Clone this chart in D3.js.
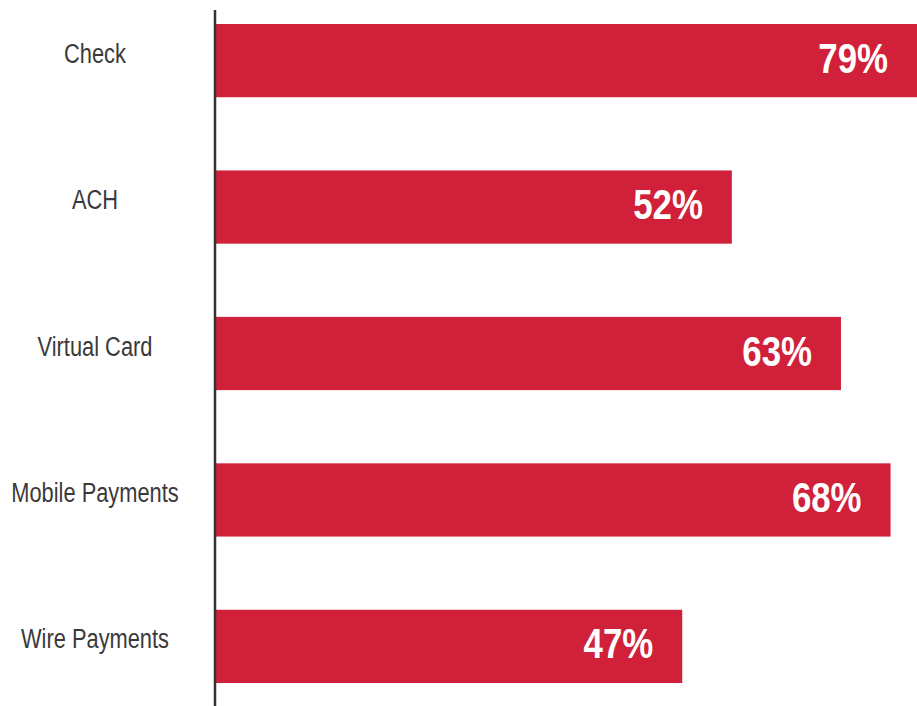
<!DOCTYPE html>
<html>
<head>
<meta charset="utf-8">
<script src="https://cdn.jsdelivr.net/npm/d3@7"></script>
<style>
  html, body { margin: 0; padding: 0; background: #ffffff; }
  svg { display: block; }
</style>
</head>
<body>
<svg id="chart" width="917" height="706"></svg>
<script>
// Share of respondents using each payment method
const categories = ["Check", "ACH", "Virtual Card", "Mobile Payments", "Wire Payments"];
const values = [79, 52, 63, 68, 47];
const valueLabels = ["79%", "52%", "63%", "68%", "47%"];

const W = 917, H = 706;
const axisX = 215;
const barLeft = 216;
const labelCenterX = 95;
const FONT = "'Liberation Sans', Arial, sans-serif";

const svg = d3.select("#chart");

// Horizontal value scale (percent → pixels); the longest bar runs past the frame edge
const x = d3.scaleLinear().domain([0, 100]).range([barLeft, barLeft + 992]);

// One band per category
const y = d3.scaleBand()
  .domain(categories)
  .range([24, 683])
  .paddingInner(0.5)
  .paddingOuter(0);

const rows = categories.map((c, i) => ({ cat: c, value: values[i], label: valueLabels[i] }));

// Bars
svg.append("g")
  .selectAll("rect")
  .data(rows)
  .join("rect")
  .attr("x", barLeft)
  .attr("y", d => y(d.cat))
  .attr("width", d => x(d.value) - barLeft)
  .attr("height", y.bandwidth())
  .attr("fill", "#d0203a");

// Value labels inside the bar ends (kept within the visible frame), condensed horizontally
svg.append("g")
  .selectAll("text")
  .data(rows)
  .join("text")
  .attr("transform", d =>
    `translate(${Math.min(x(d.value), W) - 29},${y(d.cat) + y.bandwidth() / 2 + 12}) scale(0.81,1)`)
  .attr("text-anchor", "end")
  .attr("fill", "#ffffff")
  .style("font-family", FONT)
  .style("font-weight", "bold")
  .style("font-size", "43px")
  .text(d => d.label);

// Category labels, centred in the left gutter, condensed horizontally
svg.append("g")
  .selectAll("text")
  .data(rows)
  .join("text")
  .attr("transform", d =>
    `translate(${labelCenterX},${y(d.cat) + y.bandwidth() / 2 + 2}) scale(0.78,1)`)
  .attr("text-anchor", "middle")
  .attr("fill", "#3a3a3a")
  .style("font-family", FONT)
  .style("font-size", "28px")
  .text(d => d.cat);

// Vertical baseline axis
svg.append("line")
  .attr("x1", axisX).attr("x2", axisX)
  .attr("y1", 10).attr("y2", H)
  .attr("stroke", "#333333")
  .attr("stroke-width", 2.5);
</script>
</body>
</html>
